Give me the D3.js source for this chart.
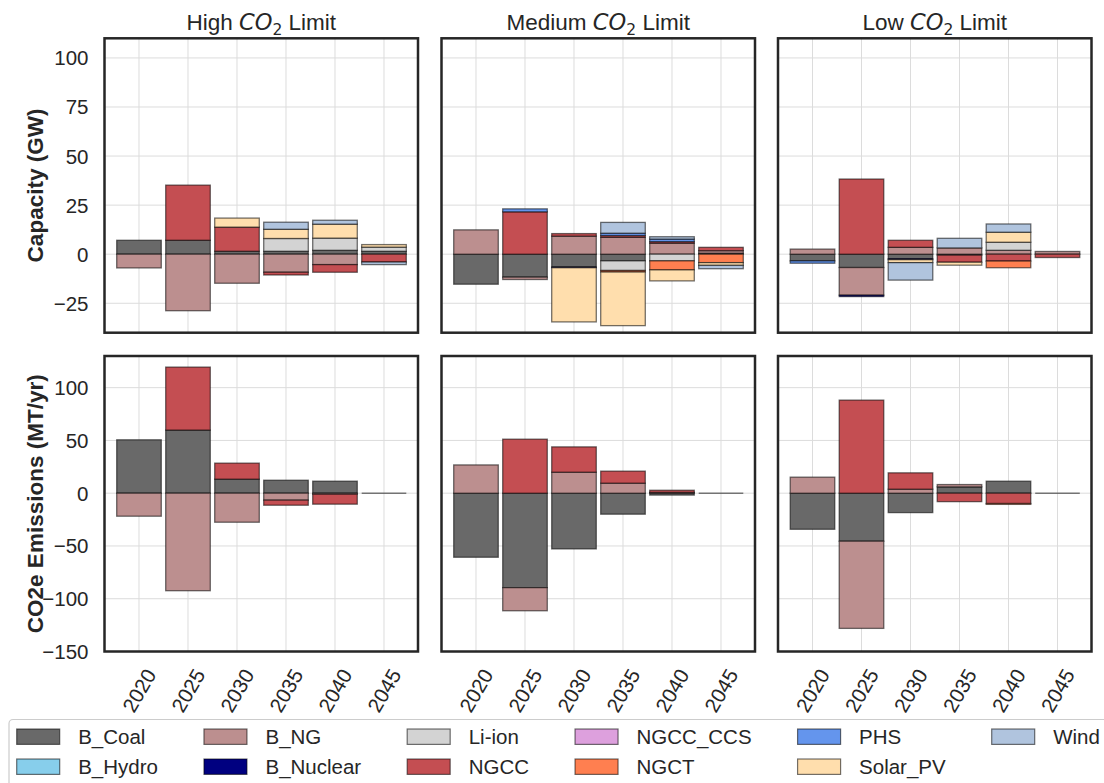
<!DOCTYPE html>
<html>
<head>
<meta charset="utf-8">
<script src="https://cdn.jsdelivr.net/npm/d3@7"></script>
<style>
  body { margin: 0; background: #fff; }
  text { font-family: "Liberation Sans", Arial, sans-serif; fill: #262626; }
</style>
</head>
<body>
<div id="chart"></div>
<script>
// data
var years = ["2020", "2025", "2030", "2035", "2040", "2045"];
var techs = ["B_Coal", "B_Hydro", "B_NG", "B_Nuclear", "Li-ion", "NGCC", "NGCC_CCS", "NGCT", "PHS", "Solar_PV", "Wind"];
var techColors = ["#696969", "#87CEEB", "#BC8F8F", "#000080", "#D3D3D3", "#C44E52", "#DDA0DD", "#FF7F50", "#6495ED", "#FFDEAD", "#B0C4DE"];
var scenarios = ["High", "Medium", "Low"];

// capacity change (GW)
var capHigh = {
    "B_Coal":   [7.1, 7.1, 1.5, 1.5, 2.0, 1.5],
    "B_NG":     [-7.0, -28.8, -14.8, -9.2, -5.3, 0],
    "Li-ion":   [0, 0, 0, 6.5, 6.2, 2.1],
    "NGCC":     [0, 28.1, 12.3, -1.4, -3.9, -4.0],
    "Solar_PV": [0, 0, 4.6, 4.7, 7.1, 1.3],
    "Wind":     [0, 0, 0, 3.6, 2.0, -1.3]
};
var capMed = {
    "B_Coal":    [-15.3, -11.7, -6.5, -3.4, 0, 0.5],
    "B_NG":      [12.4, -1.2, 9.2, 8.6, 5.6, 1.3],
    "B_Nuclear": [0, 0, -0.4, 0, 0, 0],
    "Li-ion":    [0, 0, 0, -4.9, -3.4, 0],
    "NGCC":      [0, 21.6, 1.3, 0.9, 0.8, 1.7],
    "NGCT":      [0, 0, 0, -0.8, -4.6, -4.3],
    "PHS":       [0, 1.5, 0, 1.2, 1.3, 0],
    "Solar_PV":  [0, 0, -27.6, -27.3, -5.6, -1.4],
    "Wind":      [0, 0, 0, 5.5, 1.2, -1.7]
};
var capLow = {
    "B_Coal":    [-3.4, -6.8, -2.3, -0.5, 0, 0],
    "B_NG":      [2.6, -14.1, 3.5, 3.2, 2.0, 1.4],
    "B_Nuclear": [0, -0.7, -0.5, 0, 0, 0],
    "Li-ion":    [0, 0, 0, 0, 4.1, 0],
    "NGCC":      [0, 38.3, 3.6, -3.6, -3.5, -1.7],
    "NGCT":      [0, 0, 0, 0, -3.4, 0],
    "PHS":       [-1.2, 0, 0, 0, 0, 0],
    "Solar_PV":  [0, 0, -1.5, -1.5, 5.1, 0],
    "Wind":      [0, 0, -8.9, 4.9, 4.2, 0]
};

// CO2e emissions change (MT/yr)
var emiHigh = {
    "B_Coal": [50.6, 59.8, 13.3, 12.3, 11.4, 0],
    "B_NG":   [-21.8, -92.4, -27.5, -6.6, -1.0, 0],
    "NGCC":   [0, 59.7, 15.2, -4.8, -9.4, 0]
};
var emiMed = {
    "B_Coal": [-60.7, -89.5, -52.8, -19.9, -1.8, 0],
    "B_NG":   [26.8, -21.9, 19.9, 9.5, 0.8, 0],
    "NGCC":   [0, 51.2, 24.0, 11.4, 2.0, 0]
};
var emiLow = {
    "B_Coal": [-34.2, -45.5, -18.4, 6.0, 11.4, 0],
    "B_NG":   [15.2, -82.6, 3.8, 2.2, 0, 0],
    "NGCC":   [0, 88.2, 15.5, -8.0, -9.8, 0],
    "NGCT":   [0, 0, 0, 0, -0.8, 0]
};

var capTicks = [-25, 0, 25, 50, 75, 100];
var emiTicks = [-150, -100, -50, 0, 50, 100];

var capData = [capHigh, capMed, capLow];
var emiData = [emiHigh, emiMed, emiLow];

/////////////////////////////////////////////////
// layout
/////////////////////////////////////////////////
var W = 1104, H = 783;
var panelLeft = [104.5, 441.5, 778];
var panelW = 313.5;
var rows = [
    {top: 38.3, bottom: 332.7, domain: [-40, 110], ticks: capTicks, data: capData, label: "Capacity (GW)"},
    {top: 356, bottom: 651.5, domain: [-150, 130], ticks: emiTicks, data: emiData, label: "CO2e Emissions (MT/yr)"}
];
var barW = 0.91;

var svg = d3.select("#chart").append("svg")
    .attr("width", W)
    .attr("height", H)
    .style("background-color", "#fff");

var color = d3.scaleOrdinal().domain(techs).range(techColors);

rows.forEach(function (row, r) {

    var y = d3.scaleLinear().domain(row.domain).range([row.bottom, row.top]);

    scenarios.forEach(function (sc, c) {

        var x = d3.scaleLinear().domain([-0.704, 5.694]).range([panelLeft[c], panelLeft[c] + panelW]);
        var g = svg.append("g");

        // grid
        g.selectAll(".hgrid").data(row.ticks).enter().append("line")
            .attr("x1", panelLeft[c]).attr("x2", panelLeft[c] + panelW)
            .attr("y1", function (d) { return y(d); })
            .attr("y2", function (d) { return y(d); })
            .attr("stroke", "#dcdcdc").attr("stroke-width", 1);
        g.selectAll(".vgrid").data(years).enter().append("line")
            .attr("x1", function (d, i) { return x(i); })
            .attr("x2", function (d, i) { return x(i); })
            .attr("y1", row.top).attr("y2", row.bottom)
            .attr("stroke", "#dcdcdc").attr("stroke-width", 1);

        // stacked bars, positives up and negatives down
        var series = row.data[c];
        var posBase = years.map(function () { return 0; });
        var negBase = years.map(function () { return 0; });
        var rects = [];
        techs.forEach(function (t) {
            var vals = series[t];
            if (!vals) return;
            vals.forEach(function (v, i) {
                if (v > 0) {
                    rects.push({tech: t, i: i, y0: posBase[i], y1: posBase[i] + v});
                    posBase[i] += v;
                } else if (v < 0) {
                    rects.push({tech: t, i: i, y0: negBase[i] + v, y1: negBase[i]});
                    negBase[i] += v;
                }
            });
        });

        g.selectAll(".bar").data(rects).enter().append("rect")
            .attr("x", function (d) { return x(d.i - barW / 2); })
            .attr("width", x(barW) - x(0))
            .attr("y", function (d) { return y(d.y1); })
            .attr("height", function (d) { return y(d.y0) - y(d.y1); })
            .attr("fill", function (d) { return color(d.tech); })
            .attr("stroke", "#000")
            .attr("stroke-opacity", 0.55)
            .attr("stroke-width", 1.3);

        // years where every value is zero show as a flat bar
        var flat = years.map(function (d, i) { return i; })
            .filter(function (i) { return posBase[i] === 0 && negBase[i] === 0; });
        g.selectAll(".flat").data(flat).enter().append("line")
            .attr("x1", function (i) { return x(i - barW / 2); })
            .attr("x2", function (i) { return x(i + barW / 2); })
            .attr("y1", y(0)).attr("y2", y(0))
            .attr("stroke", "#000").attr("stroke-opacity", 0.5).attr("stroke-width", 1.5);

        // frame
        g.append("rect")
            .attr("x", panelLeft[c]).attr("y", row.top)
            .attr("width", panelW).attr("height", row.bottom - row.top)
            .attr("fill", "none").attr("stroke", "#262626").attr("stroke-width", 2.5);

        // y tick labels on the first column only
        if (c === 0) {
            g.selectAll(".ytl").data(row.ticks).enter().append("text")
                .attr("x", panelLeft[c] - 16)
                .attr("y", function (d) { return y(d); })
                .attr("text-anchor", "end")
                .attr("dominant-baseline", "central")
                .style("font-size", "20.5px")
                .text(function (d) { return d < 0 ? "\u2212" + Math.abs(d) : d; });
        }

        // x tick labels on the bottom row only
        if (r === 1) {
            g.selectAll(".xtl").data(years).enter().append("text")
                .attr("transform", function (d, i) {
                    return "translate(" + [x(i), 690.5] + ") rotate(-60)";
                })
                .attr("text-anchor", "middle")
                .attr("dominant-baseline", "central")
                .style("font-size", "20.5px")
                .text(function (d) { return d; });
        }

        // titles on top row
        if (r === 0) {
            var title = g.append("text")
                .attr("x", panelLeft[c] + panelW / 2)
                .attr("y", 30)
                .attr("text-anchor", "middle")
                .style("font-size", "22.5px");
            title.append("tspan").text(sc + " ");
            title.append("tspan").text("CO")
                .style("font-family", "DejaVu Sans").style("font-style", "italic");
            title.append("tspan").text("2")
                .style("font-family", "DejaVu Sans").style("font-size", "15.5px")
                .attr("dy", 4.5);
            title.append("tspan").text(" Limit").attr("dy", -4.5);
        }
    });

    // row label
    svg.append("text")
        .attr("transform", "translate(" + [35, (row.top + row.bottom) / 2] + ") rotate(-90)")
        .attr("text-anchor", "middle")
        .attr("dominant-baseline", "central")
        .style("font-size", "22.5px")
        .style("font-weight", "bold")
        .text(row.label);
});

/////////////////////////////////////////////////
// legend, column-major, 2 rows x 6 cols
/////////////////////////////////////////////////
var legend = svg.append("g");
legend.append("rect")
    .attr("x", 9).attr("y", 719.5)
    .attr("width", 1110).attr("height", 80)
    .attr("rx", 4)
    .attr("fill", "#fff").attr("stroke", "#cccccc").attr("stroke-width", 1.2);

var rowY = [736.7, 766.7];
var colX = 16.7;
var nCols = Math.ceil(techs.length / 2);
for (var col = 0; col < nCols; col++) {
    var maxW = 0;
    for (var k = 0; k < 2; k++) {
        var idx = col * 2 + k;
        if (idx >= techs.length) continue;
        legend.append("rect")
            .attr("x", colX).attr("y", rowY[k] - 7.7)
            .attr("width", 43).attr("height", 15.4)
            .attr("fill", techColors[idx])
            .attr("stroke", "#000").attr("stroke-opacity", 0.55).attr("stroke-width", 1.2);
        var t = legend.append("text")
            .attr("x", colX + 61.5).attr("y", rowY[k])
            .attr("dominant-baseline", "central")
            .style("font-size", "20.5px")
            .text(techs[idx]);
        maxW = Math.max(maxW, t.node().getComputedTextLength());
    }
    colX = colX + 61.5 + maxW + 46;
}
</script>
</body>
</html>
